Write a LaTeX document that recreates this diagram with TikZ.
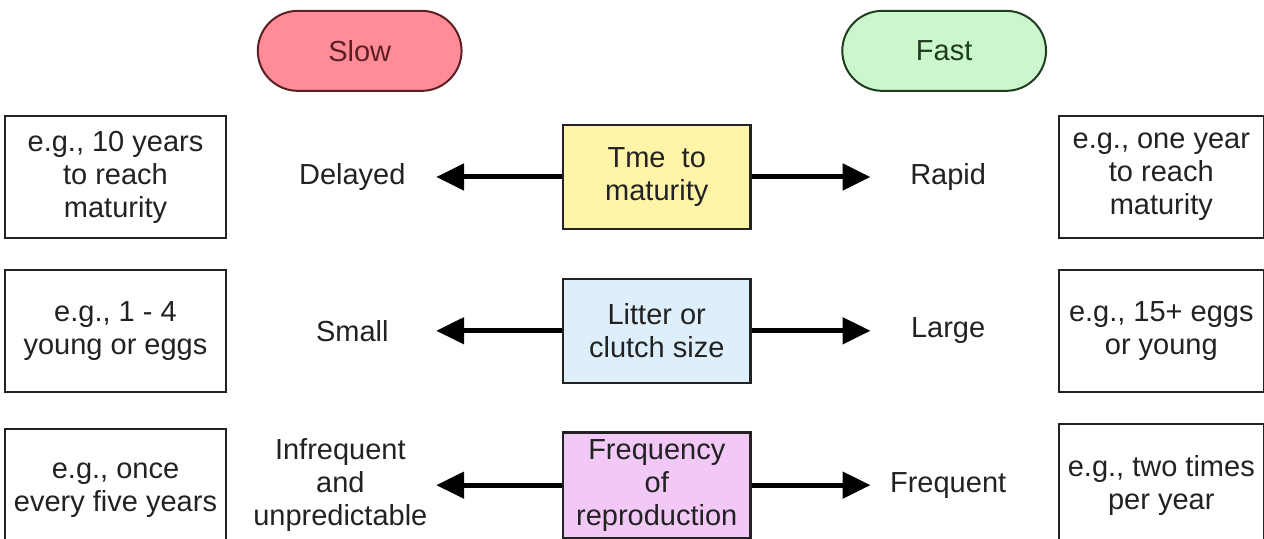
\documentclass[tikz,border=0pt]{standalone}
\usepackage{fontspec}
\setmainfont{Liberation Sans}
\usetikzlibrary{arrows.meta, positioning}
\definecolor{slowpink}{HTML}{FF8C96}
\definecolor{slowedge}{HTML}{5C1F26}
\definecolor{fastgreen}{HTML}{CCF7CC}
\definecolor{fastedge}{HTML}{1F3D1F}
\definecolor{timeyellow}{HTML}{FFF4A8}
\definecolor{litterblue}{HTML}{DDEFFA}
\definecolor{freqpurple}{HTML}{F1C8F6}
\definecolor{ink}{HTML}{222222}
\tikzstyle{pace} = [rectangle, rounded corners=20pt, minimum width=3.58cm, minimum height=40pt, align=center, draw, line width=1pt, font=\fontsize{14.5}{16.5}\selectfont]
\tikzstyle{trait} = [rectangle, minimum width=3.29cm, minimum height=1.83cm, align=center, draw=ink, line width=1.2pt, text=ink, font=\fontsize{14.5}{16.5}\selectfont]
\tikzstyle{instance} = [rectangle, minimum width=3.87cm, minimum height=2.14cm, align=center, draw=ink, fill=white, line width=1.1pt, text=ink, font=\fontsize{14.5}{16.5}\selectfont]
\tikzstyle{outcome} = [align=center, text=ink, font=\fontsize{14.5}{16.5}\selectfont]
\tikzstyle{arrow} = [line width=2.5pt, draw=black, -{Triangle[length=14pt, width=13pt]}]

\begin{document}
\begin{tikzpicture}

\useasboundingbox (0,0) rectangle (22.21,-9.47);

% --- Middle column: life history traits ---
\node (time) [trait, fill=timeyellow] at (11.54,-3.11) {Tme~~to\\maturity};
\node (litter) [trait, fill=litterblue, below=0.83cm of time] {Litter or\\clutch size};
\node (freq) [trait, fill=freqpurple, below=0.83cm of litter] {Frequency\\of\\reproduction};

% --- Headings ---
\node (slow) [pace, fill=slowpink, draw=slowedge, text=slowedge, above=0.56cm of time, xshift=-5.22cm] {Slow};
\node (fast) [pace, fill=fastgreen, draw=fastedge, text=fastedge, above=0.56cm of time, xshift=5.05cm] {Fast};

% --- Slow side ---
\node (time-ex-slow) [instance, left=5.89cm of time] {e.g., 10 years\\to reach\\maturity};
\node (litter-ex-slow) [instance, left=5.89cm of litter] {e.g., 1 - 4\\young or eggs};
\node (freq-ex-slow) [instance, left=5.89cm of freq, yshift=-0.09cm] {e.g., once\\every five years};

\node (delayed) [outcome] at ([xshift=-5.35cm]time.center) {Delayed};
\node (small) [outcome] at ([xshift=-5.35cm]litter.center) {Small};
\node (infrequent) [outcome] at ([xshift=-5.56cm]freq.center) {Infrequent\\and\\unpredictable};

% --- Fast side ---
\node (time-ex-fast) [instance, minimum width=3.6cm, right=5.38cm of time] {e.g., one year\\to reach\\maturity};
\node (litter-ex-fast) [instance, minimum width=3.6cm, right=5.38cm of litter] {e.g., 15+ eggs\\or young};
\node (freq-ex-fast) [instance, minimum width=3.6cm, right=5.38cm of freq] {e.g., two times\\per year};

\node (rapid) [outcome] at ([xshift=5.12cm]time.center) {Rapid};
\node (large) [outcome] at ([xshift=5.12cm]litter.center) {Large};
\node (frequent) [outcome] at ([xshift=5.12cm]freq.center) {Frequent};

% --- Arrow tips ---
\coordinate (time-s) at ([xshift=-2.21cm]time.west);
\coordinate (litter-s) at ([xshift=-2.21cm]litter.west);
\coordinate (freq-s) at ([xshift=-2.21cm]freq.west);
\coordinate (time-f) at ([xshift=2.09cm]time.east);
\coordinate (litter-f) at ([xshift=2.09cm]litter.east);
\coordinate (freq-f) at ([xshift=2.09cm]freq.east);

% --- Arrows ---
\draw [arrow] (time) -- (time-s);
\draw [arrow] (time) -- (time-f);
\draw [arrow] (litter) -- (litter-s);
\draw [arrow] (litter) -- (litter-f);
\draw [arrow] (freq) -- (freq-s);
\draw [arrow] (freq) -- (freq-f);

\end{tikzpicture}
\end{document}
